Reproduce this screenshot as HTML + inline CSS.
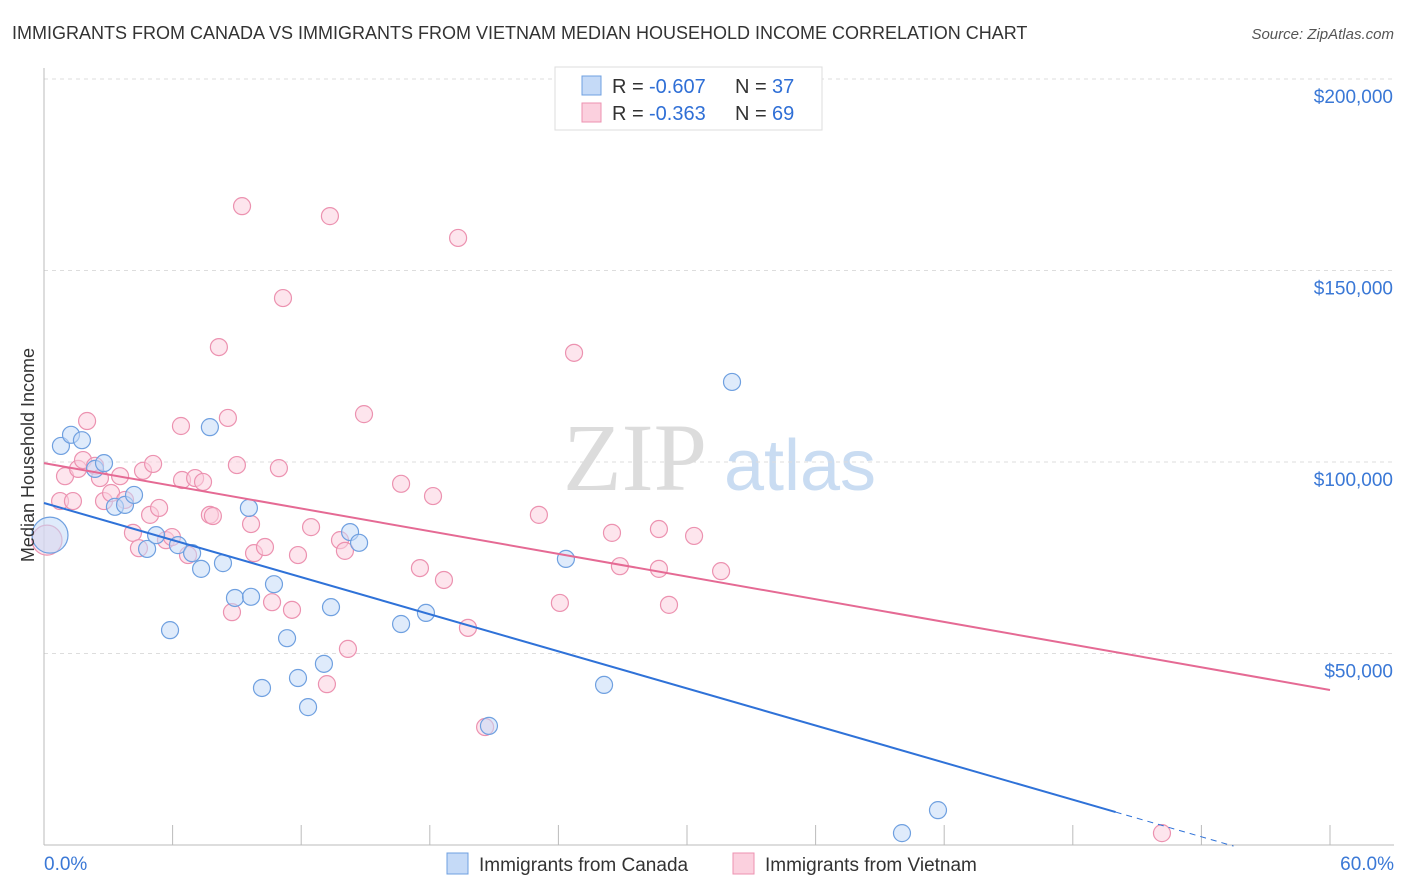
<!DOCTYPE html>
<html><head><meta charset="utf-8"><style>
body{margin:0;background:#fff;font-family:"Liberation Sans",sans-serif;}
svg{display:block}
</style></head><body>
<svg id="chart" width="1406" height="892">
<text x="12" y="39" font-size="18" fill="#333">IMMIGRANTS FROM CANADA VS IMMIGRANTS FROM VIETNAM MEDIAN HOUSEHOLD INCOME CORRELATION CHART</text>
<text x="1394" y="39" font-size="15" fill="#555" font-style="italic" text-anchor="end">Source: ZipAtlas.com</text>
<g>
<text x="635" y="490" font-size="96" font-family="Liberation Serif,serif" fill="#dcdcdc" text-anchor="middle">ZIP</text>
<text x="800" y="490" font-size="72" fill="#c9dcf2" text-anchor="middle">atlas</text>
</g>
<g id="grid"></g>
<g id="axes"></g>
<g id="marks"></g>
<text transform="translate(34,455) rotate(-90)" font-size="18" fill="#333" text-anchor="middle">Median Household Income</text>
<g>
<rect x="555" y="67" width="267" height="63" fill="#fff" stroke="#ddd"/>
<rect x="582" y="76" width="19" height="19" fill="#c5daf7" stroke="#6fa0e0"/>
<rect x="582" y="103" width="19" height="19" fill="#fbd0de" stroke="#ec92b0"/>
<text x="612" y="93" font-size="20" fill="#333">R =</text>
<text x="649" y="93" font-size="20" fill="#2f6fd6">-0.607</text>
<text x="735" y="93" font-size="20" fill="#333">N =</text>
<text x="772" y="93" font-size="20" fill="#2f6fd6">37</text>
<text x="612" y="120" font-size="20" fill="#333">R =</text>
<text x="649" y="120" font-size="20" fill="#2f6fd6">-0.363</text>
<text x="735" y="120" font-size="20" fill="#333">N =</text>
<text x="772" y="120" font-size="20" fill="#2f6fd6">69</text>
</g>
<g>
<rect x="447" y="853" width="21" height="21" fill="#c5daf7" stroke="#6fa0e0"/>
<text x="479" y="871" font-size="19" fill="#333">Immigrants from Canada</text>
<rect x="733" y="853" width="21" height="21" fill="#fbd0de" stroke="#ec92b0"/>
<text x="765" y="871" font-size="19" fill="#333">Immigrants from Vietnam</text>
</g>
</svg>
<script>
const yTicks=[50000,100000,150000,200000];
const yTickLabels=["$50,000","$100,000","$150,000","$200,000"];
const xTicks=[0,6,12,18,24,30,36,42,48,54,60];
const canadaX=[0.28,0.79,1.26,1.77,2.38,2.80,3.31,3.78,4.20,4.81,5.23,5.88,6.25,6.91,7.33,7.74,8.35,8.91,9.56,9.66,10.17,10.73,11.34,11.85,12.32,13.06,13.39,14.28,14.70,16.66,17.82,20.76,24.35,26.13,32.10,40.03,41.71];
const canadaY=[80900,104200,107100,105700,98200,99700,88300,88800,91400,77300,80900,56100,78300,76200,72100,109100,73600,64500,88000,64800,41000,68100,54000,43600,36000,47300,62100,81700,78900,57700,60600,31100,74700,41800,120900,3100,9100];
const vietX=[0.14,0.75,0.98,1.35,1.59,2.01,1.82,2.38,2.61,2.80,3.13,3.55,3.78,4.15,4.43,4.62,4.95,5.09,5.37,5.69,5.97,6.39,6.44,6.72,7.05,7.42,7.74,7.88,8.16,8.58,8.77,9.00,9.24,9.66,9.80,10.31,10.64,10.96,11.15,11.57,11.85,12.46,13.20,13.34,13.81,14.04,14.18,14.93,16.66,17.54,18.15,18.66,19.32,19.78,20.58,23.09,24.07,24.73,26.50,26.87,28.69,28.69,29.16,30.33,31.59,52.16];
const vietY=[79600,89800,96300,89800,98200,110700,100500,99000,95800,89800,91900,96300,90100,81500,77500,97700,86200,99500,88000,79600,80400,109400,95300,75700,95800,94800,86200,85900,130000,111500,60800,99200,166800,83800,76200,77800,63400,98400,142800,61400,75700,83000,42000,164200,79600,76800,51200,112500,94300,72300,91100,69200,158500,56700,30800,86200,63200,128500,81500,72800,82500,72100,62700,80700,71500,3100];
const canadaTrend=[89300,-1614];
const vietTrend=[99700,-987];
const NS="http://www.w3.org/2000/svg";
const X0=44,X1=1330,Y0=845,YPX=191.5/50000;
const sx=v=>X0+(v/60)*(X1-X0);
const sy=v=>Y0-v*YPX;
function mk(tag,attrs,parent){const e=document.createElementNS(NS,tag);for(const k in attrs)e.setAttribute(k,attrs[k]);parent.appendChild(e);return e;}
const grid=document.getElementById('grid'),axes=document.getElementById('axes'),marks=document.getElementById('marks');
yTicks.forEach((t,i)=>{
 const l=mk('line',{x1:X0,x2:1394,y1:sy(t),y2:sy(t),stroke:'#ddd','stroke-dasharray':'4,4'},grid);
 
 
 const tx=mk('text',{x:1393,y:sy(t)+24,'font-size':19,fill:'#3a78d6','text-anchor':'end'},axes);
 tx.textContent=yTickLabels[i];
 
 
});
const ya=mk('line',{x1:X0,x2:X0,y1:68,y2:Y0,stroke:'#bbb'},axes);


const xa=mk('line',{x1:X0,x2:1394,y1:Y0,y2:Y0,stroke:'#bbb'},axes);


xTicks.forEach(t=>{const l=mk('line',{x1:sx(t),x2:sx(t),y1:Y0,y2:Y0-20,stroke:'#bbb'},axes);
 
 });
const xl=mk('text',{x:44,y:870,'font-size':19,fill:'#3a78d6'},axes);xl.textContent='0.0%';


const xr=mk('text',{x:1394,y:870,'font-size':19,fill:'#3a78d6','text-anchor':'end'},axes);xr.textContent='60.0%';


function pts(xs,ys,fill,stroke,name){
 xs.forEach((x,i)=>{const r=i===0?(name==='canada-point'?18:15):8.5;
  const c=mk('circle',{cx:sx(x),cy:sy(ys[i]),r:r,fill:fill,'fill-opacity':0.55,stroke:stroke,'stroke-width':1.2},marks);
  
  });
}
pts(vietX,vietY,'#fbd0de','#ec92b0','vietnam-point');
pts(canadaX,canadaY,'#c5daf7','#6fa0e0','canada-point');
const f=(tr,x)=>tr[0]+tr[1]*x;
let l1=mk('line',{x1:sx(0),y1:sy(f(canadaTrend,0)),x2:sx(50),y2:sy(f(canadaTrend,50)),stroke:'#2f72d8','stroke-width':2},marks);


let l2=mk('line',{x1:sx(50),y1:sy(f(canadaTrend,50)),x2:sx(55.5),y2:sy(f(canadaTrend,55.5)),stroke:'#2f72d8','stroke-width':1,'stroke-dasharray':'6,5'},marks);


let l3=mk('line',{x1:sx(0),y1:sy(f(vietTrend,0)),x2:sx(60),y2:sy(f(vietTrend,60)),stroke:'#e56a94','stroke-width':2},marks);


</script>
</body></html>
